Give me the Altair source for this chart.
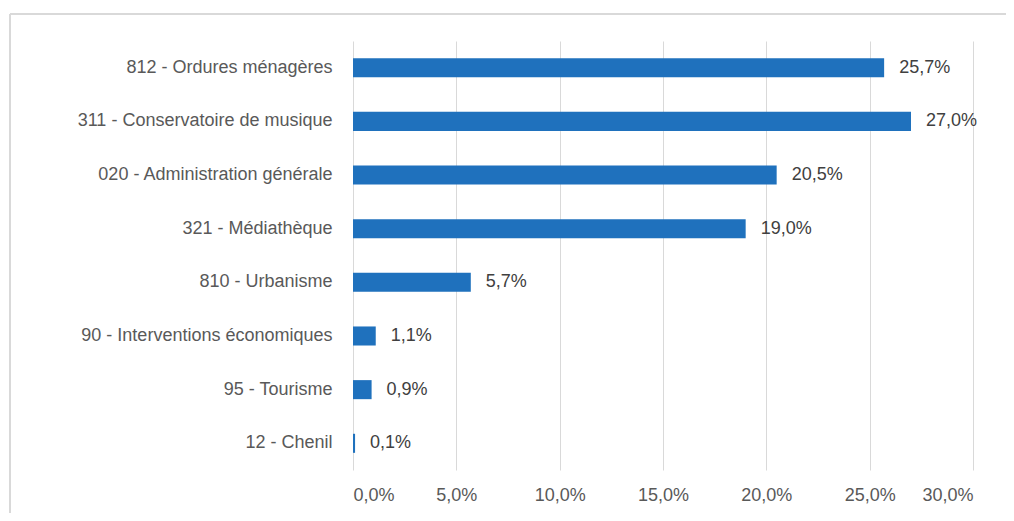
import altair as alt
import pandas as pd

categories = [
    "812 - Ordures ménagères",
    "311 - Conservatoire de musique",
    "020 - Administration générale",
    "321 - Médiathèque",
    "810 - Urbanisme",
    "90 - Interventions économiques",
    "95 - Tourisme",
    "12 - Chenil",
]
values = [0.257, 0.270, 0.205, 0.190, 0.057, 0.011, 0.009, 0.001]
x_ticks = [0, 0.05, 0.10, 0.15, 0.20, 0.25, 0.30]

df = pd.DataFrame({"cat": categories, "val": values})

FONT = "Liberation Sans"
BAR = "#1f71bd"

base = alt.Chart(df).transform_calculate(
    lbl="replace(format(datum.val, '.1%'), '.', ',')"
)

y_enc = alt.Y(
    "cat:N",
    sort=categories,
    title=None,
    scale=alt.Scale(paddingInner=0.645, paddingOuter=0.32),
    axis=alt.Axis(
        domain=False,
        ticks=False,
        labelPadding=21,
        labelFont=FONT,
        labelFontSize=18,
        labelColor="#595959",
        labelLimit=400,
    ),
)

x_enc = alt.X(
    "val:Q",
    title=None,
    scale=alt.Scale(domain=[0, 0.30], nice=False),
    axis=alt.Axis(
        values=x_ticks,
        domain=False,
        ticks=False,
        grid=True,
        gridColor="#d9d9d9",
        gridWidth=1,
        labelPadding=16,
        labelFont=FONT,
        labelFontSize=18,
        labelColor="#595959",
        labelExpr="replace(format(datum.value, '.1%'), '.', ',')",
    ),
)

bars = base.mark_bar(color=BAR).encode(x=x_enc, y=y_enc)

text = base.mark_text(
    align="left", baseline="middle", dx=15, font=FONT, fontSize=18, color="#404040"
).encode(x="val:Q", y=alt.Y("cat:N", sort=categories), text="lbl:N")

frame_top = alt.Chart(df).mark_rule(stroke="#d9d9d9", strokeWidth=2).encode(
    x=alt.value(-343), x2=alt.value(700), y=alt.value(-27)
)
frame_left = alt.Chart(df).mark_rule(stroke="#d9d9d9", strokeWidth=2).encode(
    x=alt.value(-343), y=alt.value(-27), y2=alt.value(520)
)

chart = (
    alt.layer(frame_top, frame_left, bars, text)
    .properties(
        width=620,
        height=429,
        padding={"left": 345, "top": 33, "right": 33, "bottom": 43},
        autosize=alt.AutoSizeParams(type="none"),
    )
    .configure_view(stroke=None)
)

chart.save("out.html", embed_options={"renderer": "svg", "actions": False})
